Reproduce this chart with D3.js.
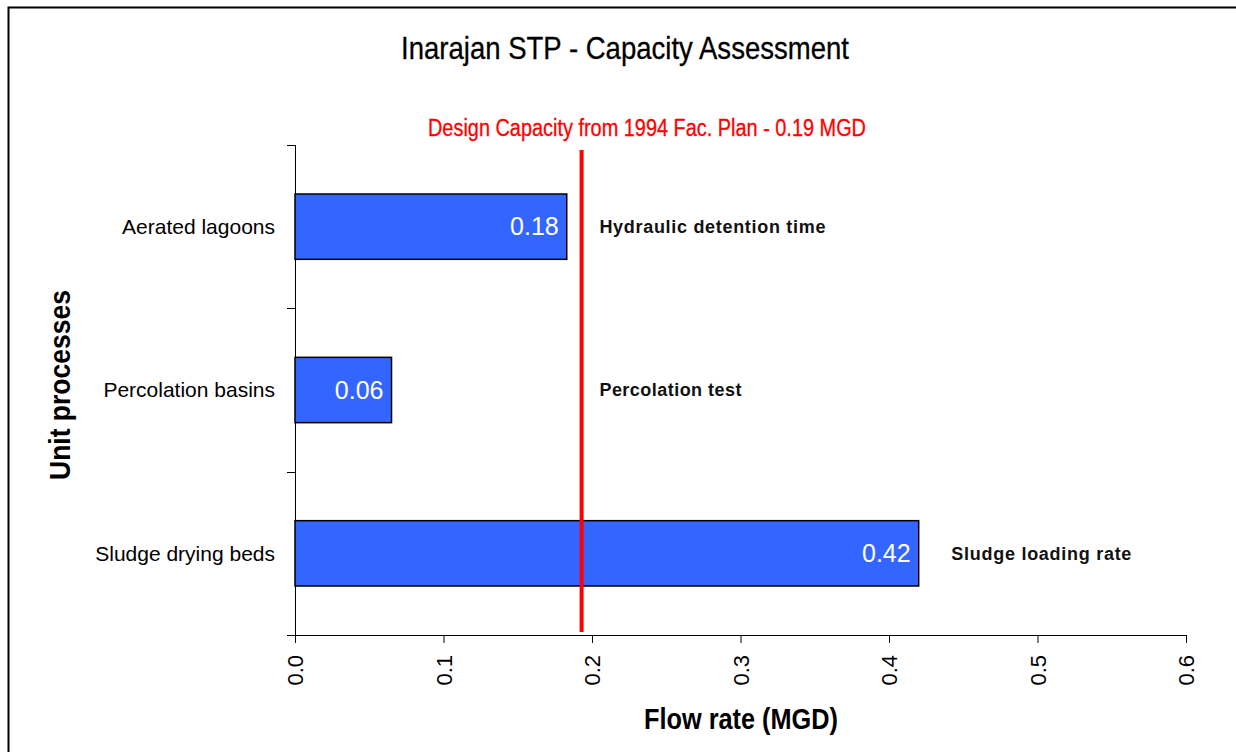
<!DOCTYPE html>
<html lang="en">
<head>
<meta charset="UTF-8">
<title>Inarajan STP - Capacity Assessment</title>
<style>
  html, body { margin: 0; padding: 0; background: #fff; }
  svg { display: block; }
</style>
</head>
<body>
<div id="chart"></div>
<script src="https://cdn.jsdelivr.net/npm/d3@7"></script>
<script>
// data
const categories = ['Aerated lagoons', 'Percolation basins', 'Sludge drying beds'];
const flowValues = [0.183, 0.065, 0.42];
const valueLabels = ['0.18', '0.06', '0.42'];
const basisLabels = ['Hydraulic detention time', 'Percolation test', 'Sludge loading rate'];
const xTicks = [0, 0.1, 0.2, 0.3, 0.4, 0.5, 0.6];
const designCapacity = 0.193;
const designLabel = 'Design Capacity from 1994 Fac. Plan - 0.19 MGD';

const W = 1236, H = 752;
const sans = '"Liberation Sans", Arial, sans-serif';

const svg = d3.select('#chart').append('svg')
  .attr('width', W).attr('height', H);

// outer frame (only top/left visible in the original)
svg.append('rect')
  .attr('x', 8.5).attr('y', 7.5)
  .attr('width', W + 20).attr('height', H + 20)
  .attr('fill', 'none').attr('stroke', '#000').attr('stroke-width', 2);

const m = { left: 295, right: 1186, top: 145, bottom: 635 };

const x = d3.scaleLinear().domain([0, 0.6]).range([m.left, m.right]);
const y = d3.scaleBand().domain(categories).range([m.top, m.bottom]).paddingInner(0.6).paddingOuter(0.3);
const yTicks = d3.scaleBand().domain(categories).range([m.top, m.bottom]);

// the original uses a narrow face, squeeze text to its measured width
function narrowText(sel, len) {
  return sel.attr('textLength', len).attr('lengthAdjust', 'spacingAndGlyphs');
}

// title
svg.append('text')
  .attr('x', 625).attr('y', 59)
  .attr('text-anchor', 'middle')
  .style('font-family', sans).style('font-size', '32px')
  .attr('stroke', '#000').attr('stroke-width', 0.3)
  .text('Inarajan STP - Capacity Assessment')
  .call(narrowText, 448);

// x axis
const xAxis = svg.append('g')
  .attr('transform', `translate(0,${m.bottom})`)
  .call(d3.axisBottom(x).tickValues(xTicks).tickFormat(d3.format('.1f')).tickSizeInner(8).tickSizeOuter(0));
xAxis.select('.domain').attr('stroke', '#000').attr('d', `M${m.left - 8},0.5H${m.right}`);
xAxis.selectAll('.tick line').attr('stroke', '#000');
xAxis.selectAll('.tick text')
  .attr('transform', 'rotate(-90)')
  .attr('x', -20).attr('y', 0).attr('dy', '0.35em')
  .attr('text-anchor', 'end')
  .style('font-family', sans).style('font-size', '22px').attr('fill', '#000');

// y axis: ticks sit on category boundaries
const yAxisG = svg.append('g').attr('transform', `translate(${m.left},0)`);
yAxisG.append('line')
  .attr('x1', 0.5).attr('x2', 0.5).attr('y1', m.top).attr('y2', m.bottom)
  .attr('stroke', '#000');
const boundaries = categories.map(c => yTicks(c));
yAxisG.selectAll('.ytick').data(boundaries).join('line')
  .attr('class', 'ytick')
  .attr('x1', -8).attr('x2', 0.5)
  .attr('y1', d => Math.round(d) + 0.5).attr('y2', d => Math.round(d) + 0.5)
  .attr('stroke', '#000');
yAxisG.selectAll('.ylabel').data(categories).join('text')
  .attr('class', 'ylabel')
  .attr('x', -20)
  .attr('y', d => y(d) + y.bandwidth() / 2)
  .attr('dy', '0.35em')
  .attr('text-anchor', 'end')
  .style('font-family', sans).style('font-size', '21px')
  .text(d => d);

// bars
svg.selectAll('.bar').data(categories).join('rect')
  .attr('class', 'bar')
  .attr('x', x(0))
  .attr('y', d => y(d))
  .attr('width', (d, i) => x(flowValues[i]) - x(0))
  .attr('height', y.bandwidth())
  .attr('fill', '#3366ff')
  .attr('stroke', '#000').attr('stroke-width', 1.5);

// value labels inside bars
svg.selectAll('.val').data(categories).join('text')
  .attr('class', 'val')
  .attr('x', (d, i) => x(flowValues[i]) - 8)
  .attr('y', d => y(d) + y.bandwidth() / 2)
  .attr('dy', '0.35em')
  .attr('text-anchor', 'end')
  .attr('fill', '#fff')
  .style('font-family', sans).style('font-size', '25px')
  .text((d, i) => valueLabels[i]);

// basis annotations
const basisX = [x(0.205), x(0.205), x(0.442)];
const basisLen = [226, 142, 180];
svg.selectAll('.basis').data(categories).join('text')
  .attr('class', 'basis')
  .attr('x', (d, i) => basisX[i])
  .attr('y', d => y(d) + y.bandwidth() / 2)
  .attr('dy', '0.35em')
  .attr('textLength', (d, i) => basisLen[i])
  .attr('lengthAdjust', 'spacing')
  .style('font-family', sans).style('font-size', '18px')
  .style('font-weight', '600').attr('fill', '#111')
  .text((d, i) => basisLabels[i]);

// design capacity line
svg.append('line')
  .attr('x1', x(designCapacity)).attr('x2', x(designCapacity))
  .attr('y1', 150).attr('y2', m.bottom - 3)
  .attr('stroke', '#ff0000').attr('stroke-width', 4);
svg.append('text')
  .attr('x', 647).attr('y', 136)
  .attr('text-anchor', 'middle')
  .attr('fill', '#ff0000')
  .attr('stroke', '#ff0000').attr('stroke-width', 0.3)
  .style('font-family', sans).style('font-size', '23px')
  .text(designLabel)
  .call(narrowText, 438);

// axis titles
svg.append('text')
  .attr('x', 741).attr('y', 729)
  .attr('text-anchor', 'middle')
  .style('font-family', sans).style('font-size', '29px').style('font-weight', 'bold')
  .text('Flow rate (MGD)')
  .call(narrowText, 194);
svg.append('text')
  .attr('transform', 'translate(70,385) rotate(-90)')
  .attr('text-anchor', 'middle')
  .style('font-family', sans).style('font-size', '30px').style('font-weight', 'bold')
  .text('Unit processes')
  .call(narrowText, 190);
</script>
</body>
</html>
